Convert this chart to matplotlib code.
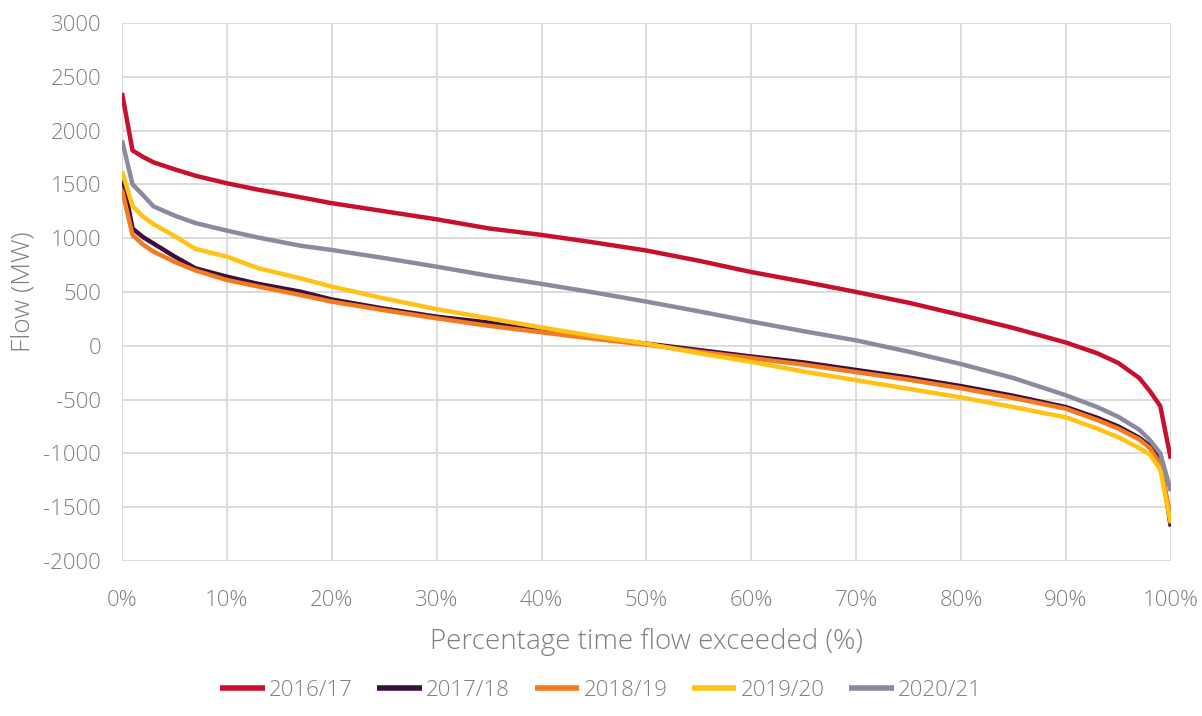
import matplotlib
matplotlib.use("Agg")
import matplotlib.pyplot as plt
from matplotlib.ticker import FuncFormatter

# percentage of time flow exceeded
pct = [0, 1, 2, 3, 5, 7, 10, 13, 17, 20, 25, 30, 35, 40, 45, 50, 55, 60, 65,
       70, 75, 80, 85, 90, 93, 95, 97, 98, 99, 100]

flow_1617 = [2350, 1815, 1755, 1705, 1640, 1580, 1510, 1450, 1380, 1325, 1250,
             1175, 1090, 1030, 960, 885, 790, 685, 595, 500, 400, 285, 165, 30,
             -70, -160, -300, -420, -560, -1050]
flow_1718 = [1600, 1090, 1010, 950, 830, 720, 642, 575, 503, 430, 345, 270, 215,
             135, 75, 20, -40, -100, -155, -225, -295, -375, -465, -570, -670,
             -750, -855, -930, -1050, -1680]
flow_1819 = [1450, 1030, 940, 875, 780, 700, 611, 550, 472, 410, 330, 255, 185,
             125, 65, 10, -55, -115, -175, -245, -315, -395, -485, -585, -690,
             -770, -870, -950, -1100, -1600]
flow_1920 = [1620, 1300, 1200, 1130, 1020, 900, 828, 720, 627, 550, 440, 340, 255,
             170, 90, 20, -70, -150, -240, -320, -400, -480, -570, -665, -770,
             -850, -950, -1010, -1150, -1650]
flow_2021 = [1910, 1500, 1400, 1295, 1210, 1140, 1070, 1005, 930, 890, 815, 735,
             650, 575, 495, 410, 320, 225, 135, 50, -55, -170, -300, -460, -570,
             -660, -780, -875, -1000, -1350]

years = ["2016/17", "2017/18", "2018/19", "2019/20", "2020/21"]
colours = ["#C8102E", "#3A0F3C", "#F47A20", "#FFC215", "#8A8BA0"]

plt.rcParams['font.family'] = ['Open Sans', 'DejaVu Sans']
plt.rcParams['axes.unicode_minus'] = False
txt = "#7f7f7f"

fig = plt.figure(figsize=(12.02, 7.16), dpi=100)
ax = fig.add_axes([0.1015, 0.2165, 0.8725, 0.7515])

series = [flow_1617, flow_1718, flow_1819, flow_1920, flow_2021]
for yr, vals, c in zip(years, series, colours):
    ax.plot(pct, vals, color=c, lw=3.2, label=yr, solid_capstyle='butt')

ax.set_xlim(0, 100)
ax.set_ylim(-2000, 3000)
ax.set_xticks(range(0, 101, 10))
ax.set_yticks(range(-2000, 3001, 500))
ax.xaxis.set_major_formatter(FuncFormatter(lambda v, p: f"{int(v)}%"))
ax.grid(True, color="#d9d9d9", lw=1.3)
ax.set_axisbelow(True)
for s in ax.spines.values():
    s.set_visible(False)
ax.tick_params(length=0, labelsize=16, colors=txt)
ax.tick_params(axis='x', pad=21)
ax.tick_params(axis='y', pad=15)
for lab in ax.get_xticklabels() + ax.get_yticklabels():
    lab.set_fontweight('light')

ax.set_xlabel("Percentage time flow exceeded (%)", fontsize=20, color=txt,
              fontweight='light', labelpad=12)
ax.set_ylabel("Flow (MW)", fontsize=19, color=txt, fontweight='light',
              labelpad=6)

leg = fig.legend(loc='center', bbox_to_anchor=(0.5, 0.036), ncol=5,
                 frameon=False, handlelength=2.0, handletextpad=0.2,
                 columnspacing=1.1, prop={'size': 16, 'weight': 'light'})
for t in leg.get_texts():
    t.set_color(txt)
for h in leg.get_lines():
    h.set_linewidth(4)

fig.savefig("out.png", dpi=100)
